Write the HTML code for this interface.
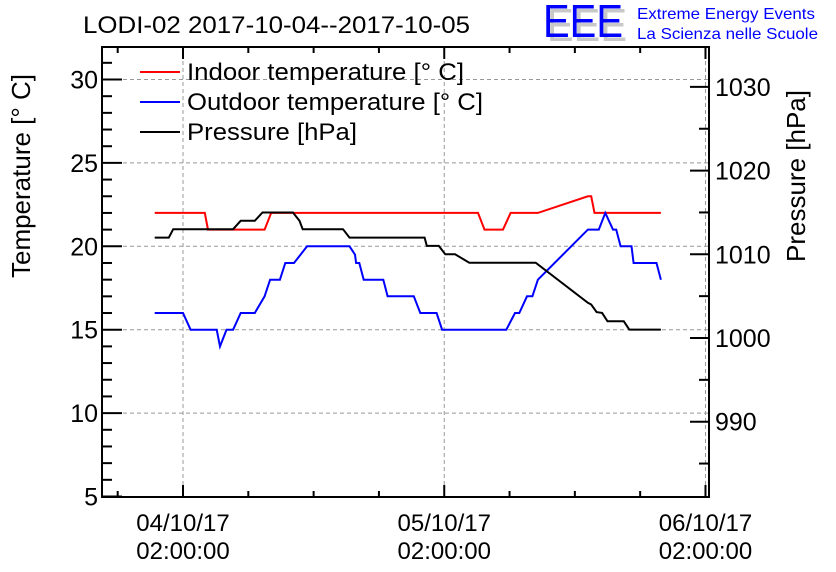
<!DOCTYPE html>
<html><head><meta charset="utf-8"><style>
html,body{margin:0;padding:0;background:#fff;}
svg{display:block;font-family:"Liberation Sans",sans-serif;}
</style></head><body>
<svg id="c" width="836" height="572" viewBox="0 0 836 572">
<g id="grid"></g>
<g id="axes"></g>
<g id="series"></g>
<text x="83" y="33" font-size="24" textLength="387" lengthAdjust="spacingAndGlyphs">LODI-02 2017-10-04--2017-10-05</text>
<g>
<text x="547" y="41" font-size="46" fill="#c8c8c8" textLength="80" lengthAdjust="spacingAndGlyphs">EEE</text>
<text x="543" y="37" font-size="46" fill="#0000ff" textLength="80" lengthAdjust="spacingAndGlyphs">EEE</text>
<text x="637" y="19" font-size="16" fill="#0000ff" textLength="178" lengthAdjust="spacingAndGlyphs">Extreme Energy Events</text>
<text x="637" y="39" font-size="16" fill="#0000ff" textLength="181" lengthAdjust="spacingAndGlyphs">La Scienza nelle Scuole</text>
</g>
<text transform="translate(30,176) rotate(-90)" text-anchor="middle" font-size="26">Temperature [° C]</text>
<text transform="translate(805,176) rotate(-90)" text-anchor="middle" font-size="26">Pressure [hPa]</text>
<g>
<g><line x1="140" y1="72" x2="180" y2="72" stroke="#f00" stroke-width="2"/><text x="187" y="80" font-size="24" textLength="277" lengthAdjust="spacingAndGlyphs">Indoor temperature [° C]</text></g>
<g><line x1="140" y1="102" x2="180" y2="102" stroke="#00f" stroke-width="2"/><text x="187" y="110" font-size="24" textLength="296" lengthAdjust="spacingAndGlyphs">Outdoor temperature [° C]</text></g>
<g><line x1="140" y1="132" x2="180" y2="132" stroke="#000" stroke-width="2"/><text x="187" y="140" font-size="24" textLength="170" lengthAdjust="spacingAndGlyphs">Pressure [hPa]</text></g>
</g>
</svg>
<script>
// hours relative to 04/10/17 02:00:00
const indoorHours=[-2.6,2.0,2.3,7.5,8.1,27.1,27.7,29.4,30.1,32.6,37.2,37.5,37.8,43.9];
const indoorTemp=[22,22,21,21,22,22,21,21,22,22,23,23,22,22];
const outdoorHours=[-2.6,0,0.7,3.1,3.4,4.0,4.6,5.3,6.6,7.5,8.0,8.9,9.4,10.2,11.4,11.8,15.3,15.8,15.9,16.2,16.6,17.3,18.4,18.8,21.2,21.8,23.3,23.8,29.7,30.5,30.9,31.6,32.1,32.6,37.2,38.2,38.8,39.5,39.8,40.2,41.2,41.4,43.5,43.9];
const outdoorTemp=[16,16,15,15,14,15,15,16,16,17,18,18,19,19,20,20,20,19.5,19,19,18,18,18,17,17,16,16,15,15,16,16,17,17,18,21,21,22,21,21,20,20,19,19,18];
const pressureHours=[-2.6,-1.3,-0.9,4.6,5.3,6.6,7.3,10.1,10.7,11.0,14.7,15.3,22.2,22.4,23.5,24.1,25.0,26.3,26.9,32.4,37.2,37.5,38.0,38.5,39.0,40.5,41.0,43.9];
const pressureHpa=[1012,1012,1013,1013,1014,1014,1015,1015,1014,1013,1013,1012,1012,1011,1011,1010,1010,1009,1009,1009,1004.2,1004,1003.1,1003,1002,1002,1001,1001];
const tempTicks=[5,10,15,20,25,30];
const pressTicks=[990,1000,1010,1020,1030];
const dayLabels=["04/10/17","05/10/17","06/10/17"];
const timeLabel="02:00:00";

const L=102,R=709,T=47,B=497;
const X=h=>183+h*10.885;
const YT=t=>496.5-(t-5)*16.68;
const YP=p=>338-(p-1000)*8.37;
const NS="http://www.w3.org/2000/svg";
function mk(parent,tag,attrs){const e=document.createElementNS(NS,tag);for(const k in attrs)e.setAttribute(k,attrs[k]);parent.appendChild(e);return e;}
const grid=document.getElementById('grid'),axes=document.getElementById('axes'),ser=document.getElementById('series');

for(let d=0;d<3;d++){const x=X(d*24);
 const g=mk(grid,'line',{x1:x,y1:T,x2:x,y2:B,stroke:'#999','stroke-dasharray':'4,3','stroke-width':1});
 
 }
tempTicks.forEach(t=>{if(t===5)return;const y=YT(t);
 const g=mk(grid,'line',{x1:L,y1:y,x2:R,y2:y,stroke:'#999','stroke-dasharray':'4,3','stroke-width':1});
 
 });

const fr=mk(axes,'rect',{x:L,y:T,width:R-L,height:B-T,fill:'none',stroke:'#000','stroke-width':2});



for(let t=5;t<=32;t++){const y=YT(t);if(y<T)break;const len=(t%5===0)?20:10;
 mk(axes,'line',{x1:L,y1:y,x2:L+len,y2:y,stroke:'#000','stroke-width':2});}
tempTicks.forEach(t=>{const e=mk(axes,'text',{x:L-4,y:YT(t)+9,'font-size':25,'text-anchor':'end'});e.textContent=t;
 
 });
for(let p=985;p<=1035;p+=5){const y=YP(p);if(y<T||y>B)continue;const len=(p%10===0)?19:10;
 mk(axes,'line',{x1:R,y1:y,x2:R-len,y2:y,stroke:'#000','stroke-width':2});}
pressTicks.forEach(p=>{const e=mk(axes,'text',{x:R+6,y:YP(p)+9,'font-size':25});e.textContent=p;
 
 });
for(let h=-6;h<=48;h+=6){const x=X(h);if(x<L||x>R+1)continue;const len=(h%24===0)?12:6;
 mk(axes,'line',{x1:x,y1:B,x2:x,y2:B-len,stroke:'#000','stroke-width':2});
 mk(axes,'line',{x1:x,y1:T,x2:x,y2:T+len,stroke:'#000','stroke-width':2});}
dayLabels.forEach((d,i)=>{const x=X(i*24);
 const a=mk(axes,'text',{x:x,y:531,'font-size':24,'text-anchor':'middle'});a.textContent=d;
 
 
 const b=mk(axes,'text',{x:x,y:559,'font-size':24,'text-anchor':'middle'});b.textContent=timeLabel;
 
 });

function line(hs,vs,yf,color,name){
 const pts=hs.map((h,i)=>X(h).toFixed(1)+','+yf(vs[i]).toFixed(1)).join(' ');
 const p=mk(ser,'polyline',{points:pts,fill:'none',stroke:color,'stroke-width':2});
 
 }
line(indoorHours,indoorTemp,YT,'#f00','indoor-temperature-line');
line(outdoorHours,outdoorTemp,YT,'#00f','outdoor-temperature-line');
line(pressureHours,pressureHpa,YP,'#000','pressure-line');
</script>
</body></html>
